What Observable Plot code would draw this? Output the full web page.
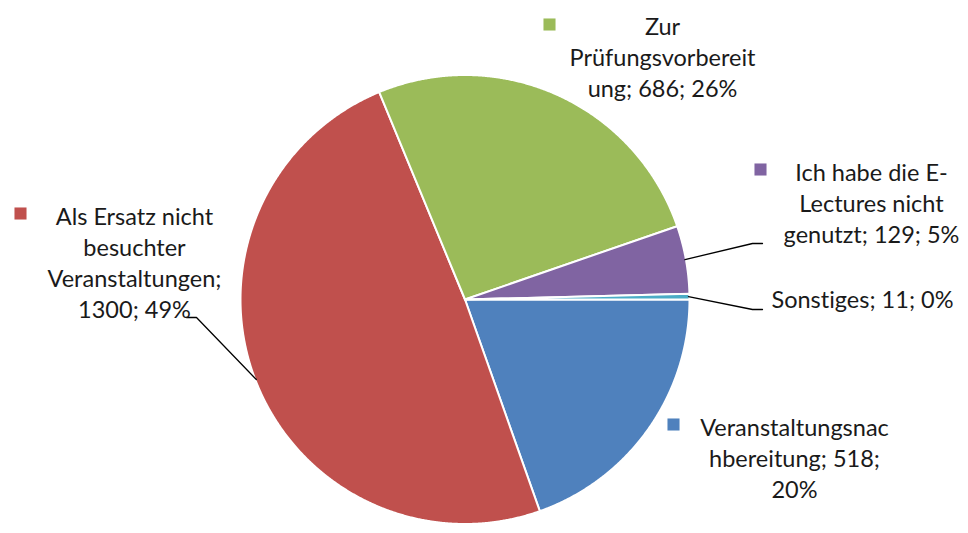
<!DOCTYPE html>
<html><head><meta charset="utf-8">
<script src="https://cdn.jsdelivr.net/npm/d3@7"></script>
<script src="https://cdn.jsdelivr.net/npm/@observablehq/plot@0.6"></script>
<style>body{margin:0;background:#fff}#chart svg{display:block}#chart text{font-variant-ligatures:none}</style>
</head><body><div id="chart"></div>
<script>
// ---- data ----
const categories = ["Veranstaltungsnachbereitung", "Als Ersatz nicht besuchter Veranstaltungen", "Zur Prüfungsvorbereitung", "Ich habe die E-Lectures nicht genutzt", "Sonstiges"];
const values = [518, 1300, 686, 129, 11];
const colors = ["#4F81BD", "#C0504D", "#9BBB59", "#8064A2", "#4BACC6"];
const labelLines = [
  ["Veranstaltungsnac", "hbereitung; 518;", "20%"],
  ["Als Ersatz nicht", "besuchter", "Veranstaltungen;", "1300; 49%"],
  ["Zur", "Prüfungsvorbereit", "ung; 686; 26%"],
  ["Ich habe die E-", "Lectures nicht", "genutzt; 129; 5%"],
  ["Sonstiges; 11; 0%"]
];
const showKey = [true, true, true, true, false];

// ---- layout (pixels) ----
const W = 968, H = 533;
const cx = 464.5, cy = 299, R = 224.5;
const fontSize = 23.5, lineH = 30.8;
// label text centre x and last-line baseline y
const labelPos = [[794, 497], [134, 317], [662, 96], [871, 242], [862, 307]];
const keyPos = [[673, 424], [20, 213], [549, 24], [760, 169], null];
// leader elbows (after the slice edge point)
const leaders = [null, [[196, 317], [186, 317]], null, [[752, 243], [762, 243]], [[752, 309], [762, 309]]];

const total = d3.sum(values);
const arcs = d3.pie().sort(null).startAngle(Math.PI / 2).endAngle(Math.PI / 2 + 2 * Math.PI)(values);
const pt = (a, r) => ({x: cx + r * Math.sin(a), y: cy - r * Math.cos(a)});

const slicePts = [];
arcs.forEach((a, i) => {
  const cat = categories[i];
  slicePts.push({cat, ...pt(0, 0)});
  const n = Math.max(2, Math.ceil((a.endAngle - a.startAngle) / (Math.PI / 720)));
  for (let k = 0; k <= n; k++) {
    slicePts.push({cat, ...pt(a.startAngle + (a.endAngle - a.startAngle) * k / n, R)});
  }
  slicePts.push({cat, ...pt(0, 0)});
});

const leaderPts = [];
arcs.forEach((a, i) => {
  if (!leaders[i]) return;
  const mid = (a.startAngle + a.endAngle) / 2;
  leaderPts.push({cat: categories[i], ...pt(mid, R - 1)});
  leaders[i].forEach(([x, y]) => leaderPts.push({cat: categories[i], x, y}));
});

const labels = categories.map((c, i) => ({
  cat: c, text: labelLines[i].join("\n"), x: labelPos[i][0], y: labelPos[i][1],
  pct: Math.round(values[i] / total * 100)
}));
const keys = categories.map((c, i) => keyPos[i] && showKey[i] ? {cat: c, x: keyPos[i][0], y: keyPos[i][1]} : null).filter(Boolean);

const chart = Plot.plot({
  width: W, height: H, margin: 0,
  style: {fontFamily: "Lato, 'Open Sans', sans-serif", background: "#fff"},
  x: {domain: [0, W], range: [0, W], axis: null},
  y: {domain: [0, H], range: [0, H], axis: null},
  color: {domain: categories, range: colors},
  marks: [
    Plot.line(slicePts, {x: "x", y: "y", z: "cat", fill: "cat", stroke: "white", strokeWidth: 2, strokeLinejoin: "round", curve: "linear"}),
    Plot.line(leaderPts, {x: "x", y: "y", z: "cat", stroke: "#000", strokeWidth: 1.3, curve: "linear"}),
    Plot.dot(keys, {x: "x", y: "y", symbol: "square", r: 6.8, fill: "cat", stroke: null}),
    Plot.text(labels, {x: "x", y: "y", text: "text", textAnchor: "middle", lineAnchor: "bottom", lineHeight: lineH / fontSize, fontSize, fill: "#1a1a1a"})
  ]
});
document.getElementById("chart").append(chart);
</script>
</body></html>
